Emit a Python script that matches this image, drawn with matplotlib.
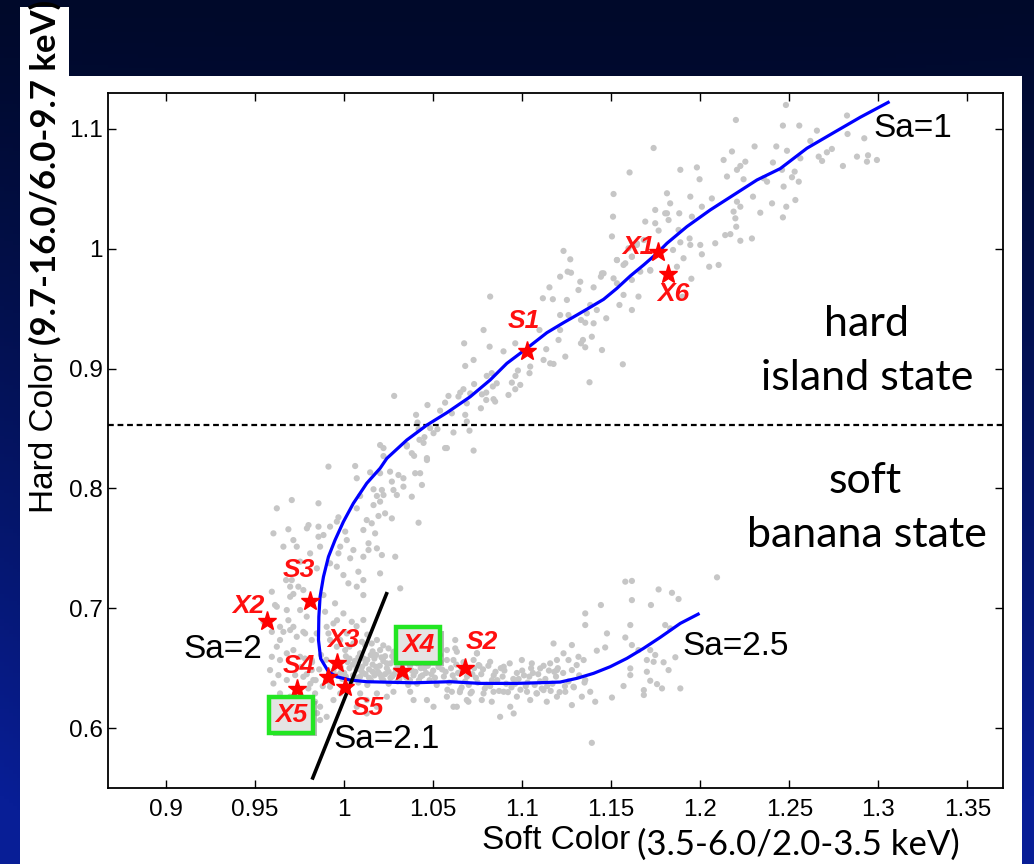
import numpy as np
import matplotlib
matplotlib.use("Agg")
import matplotlib.pyplot as plt
import matplotlib.patheffects as pe
from matplotlib.patches import Rectangle

# ---------------- data ----------------
# hard (island) branch points
hard_pts = [
(1.2481,1.120),(1.2200,1.1075),(1.2464,1.1028),(1.2556,1.1028),(1.2655,1.0986),(1.2824,1.1112),
(1.2827,1.0958),(1.2921,1.0922),(1.2942,1.0780),(1.2880,1.0769),(1.2992,1.0741),(1.2936,1.0727),
(1.2801,1.0691),(1.2739,1.0833),(1.2711,1.0805),(1.2665,1.0769),(1.2684,1.0733),(1.2618,1.0900),
(1.2562,1.0755),(1.2530,1.0644),(1.2515,1.0597),(1.2553,1.0560),(1.2487,1.0818),(1.2427,1.0854),
(1.2408,1.0720),(1.2459,1.0659),(1.2305,1.0854),(1.2253,1.0727),(1.2178,1.0812),(1.2131,1.0741),
(1.2150,1.0603),(1.2206,1.0659),(1.2225,1.0691),(1.2243,1.0580),(1.2356,1.0588),(1.2375,1.0560),
(1.2468,1.0519),(1.2534,1.0407),(1.2483,1.0351),(1.2403,1.0379),(1.2337,1.0301),(1.2296,1.0435),
(1.2206,1.0393),(1.2225,1.0351),(1.2187,1.0310),(1.2197,1.0254),(1.2202,1.0184),(1.2169,1.0122),
(1.2140,1.0114),(1.2225,1.0067),(1.2290,1.0086),(1.2464,1.0262),(1.2065,1.0420),(1.2009,1.0351),
(1.1981,1.0679),(1.1996,1.0580),(1.1888,1.0659),(1.1944,1.0435),(1.1953,1.0268),(1.1813,1.0463),
(1.1831,1.0379),(1.1882,1.0296),(1.1822,1.0240),(1.1878,1.0157),(1.1940,1.0086),(1.1944,1.0032),
(1.1888,1.0054),(1.1847,0.9990),(1.2000,1.0032),(1.2084,1.0046),(1.2009,0.9954),(1.1906,0.9921),
(1.2103,0.9865),(1.1738,1.0841),(1.1603,1.0637),(1.1513,1.0457),(1.1510,1.0268),(1.1813,1.0296),
(1.1747,1.0213),(1.1504,1.0103),(1.1532,0.9906),(1.1579,0.9879),(1.1616,0.9934),(1.1644,1.0032),
(1.1683,1.0073),(1.1719,0.9823),(1.1869,0.9850),(1.1448,0.9795),(1.1950,0.9750),(1.2050,0.9850),
(1.1900,0.9600),
(1.1803,1.0296),(1.1747,1.0324),(1.1691,1.0227),(1.1766,1.0152),(1.1644,1.0046),(1.1597,1.0004),
(1.1616,0.9934),(1.1532,0.9906),(1.1663,0.9809),(1.1719,0.9817),(1.1569,0.9865),(1.1616,0.9740),
(1.1513,0.9753),(1.1532,0.9712),(1.1653,0.9601),(1.1569,0.9615),(1.1616,0.9489),(1.1546,0.9531),
(1.1457,0.9795),(1.1442,0.9767),(1.1401,0.9678),(1.1382,0.9531),(1.1419,0.9489),(1.1472,0.9420),
(1.1363,0.9461),(1.1401,0.9378),(1.1354,0.9383),(1.1330,0.9406),(1.1391,0.9266),(1.1341,0.9239),
(1.1330,0.9211),(1.1354,0.9178),(1.1448,0.9155),(1.1565,0.9036),(1.1378,0.8886),(1.1242,0.9100),
(1.1213,0.9322),(1.1213,0.9447),(1.1260,0.9447),(1.1251,0.9573),(1.1316,0.9656),(1.1326,0.9725),
(1.1274,0.9800),(1.1255,0.9809),(1.1232,0.9982),(1.1270,0.9912),(1.1213,0.9767),(1.1153,0.9678),
(1.1172,0.9579),(1.1116,0.9587),(1.1204,0.9239),(1.1135,0.9162),(1.1120,0.9072),(1.1157,0.9044),
(1.1176,0.9039),(1.1097,0.9322),(1.1045,0.9017),(1.1041,0.8962),(1.0976,0.8984),(1.0962,0.8939),
(1.0942,0.8883),(1.0989,0.8864),(1.0961,0.8828),(1.0923,0.8780),(1.0961,0.9211),(1.0895,0.9144),
(1.0829,0.8962),(1.0801,0.8939),(1.0835,0.8851),(1.0857,0.8877),(1.0817,0.9183),(1.0783,0.9322),
(1.0820,0.9601),(1.0674,0.9211),(1.0727,0.9072),(1.0680,0.9022),(1.0798,0.8800),(1.0839,0.8745),
(1.0848,0.8725),(1.0798,0.8738),(1.0774,0.8785),(1.0730,0.8871),(1.0708,0.8793),(1.0768,0.8669),
(1.0689,0.8710),(1.0652,0.8800),(1.0670,0.8828),(1.0642,0.8767),(1.0586,0.8772),(1.0567,0.8716),
(1.0605,0.8627),(1.0680,0.8614),(1.0689,0.8558),(1.0704,0.8482),(1.0727,0.8316),(1.0614,0.8467),
(1.0577,0.8337),(1.0483,0.8503),(1.0524,0.8495),(1.0502,0.8461),(1.0468,0.8696),(1.0539,0.8649),
(1.0404,0.8614),(1.0412,0.8550),(1.0418,0.8495),(1.0451,0.8428),(1.0423,0.8406),(1.0352,0.8350),
(1.0393,0.8272),(1.0465,0.8253),(1.0202,0.8362),(1.0221,0.8337),(1.0281,0.8772),
]

# left arc (transition) points
arc_pts = [
(1.0221,0.8270),(1.0352,0.8362),(1.0380,0.8294),(1.0446,0.8380),(1.0465,0.8237),(1.0567,0.8337),
(0.9912,0.8182),(1.0062,0.8187),(1.0146,0.8134),(1.0202,0.8127),(1.0258,0.8140),(1.0305,0.8112),
(1.0333,0.8085),(1.0268,0.8057),(1.0399,0.8127),(1.0427,0.8127),(1.0437,0.8029),(1.0333,0.8015),
(1.0277,0.7987),(1.0212,0.7987),(1.0165,0.7993),(1.0184,0.7937),(1.0221,0.7945),(1.0202,0.7890),
(1.0165,0.7861),(1.0296,0.7945),(1.0380,0.7931),(1.0418,0.7714),(1.0268,0.7750),(1.0230,0.7792),
(1.0193,0.7770),(1.0155,0.7709),(1.0127,0.7736),(1.0108,0.7653),(1.0174,0.7625),(1.0137,0.7542),
(1.0184,0.7500),(1.0137,0.7486),(1.0108,0.7430),(1.0052,0.7486),(1.0034,0.7417),(1.0212,0.7444),
(1.0287,0.7430),(1.0071,0.7834),(1.0090,0.7937),(1.0071,0.8085),(0.9856,0.7876),(0.9706,0.7903),
(0.9622,0.7834),(0.9800,0.7694),(0.9791,0.7667),(0.9856,0.7681),(0.9921,0.7681),(0.9959,0.7723),
(0.9968,0.7759),(1.0006,0.7640),(0.9978,0.7514),(1.0015,0.7569),(0.9968,0.7458),(0.9687,0.7659),
(0.9603,0.7625),(0.9659,0.7514),(0.9715,0.7569),(0.9734,0.7514),(0.9856,0.7597),(0.9884,0.7611),
(0.9865,0.7514),(0.9809,0.7458),(0.9753,0.7389),(0.9847,0.7333),(0.9921,0.7375),(0.9959,0.7347),
(0.9996,0.7277),(1.0024,0.7208),(1.0080,0.7305),(1.0071,0.7180),(1.0108,0.7235),(1.0202,0.7291),
(1.0315,0.7166),(0.9706,0.7235),(0.9743,0.7180),(0.9771,0.7152),(0.9697,0.7096),(0.9594,0.7138),
(0.9622,0.7013),(0.9678,0.6985),(0.9884,0.7110),(0.9893,0.6971),(0.9949,0.7041),(0.9996,0.6957),
(1.0043,0.6887),(0.9940,0.6873),(1.0108,0.7110),(1.0108,0.6902),(0.9912,0.6790),(0.9771,0.6803),
(0.9715,0.6845),(0.9659,0.6803),(0.9594,0.6803),(0.9547,0.6887),(0.9612,0.7027),
(0.9674,0.7235),(0.9697,0.7180),(0.9715,0.7119),(0.9753,0.6985),(0.9790,0.6930),(0.9687,0.6900),
(0.9640,0.6845),(0.9697,0.6818),(0.9734,0.6762),(0.9781,0.6790),(0.9818,0.6735),(0.9640,0.6735),
(0.9622,0.6679),(0.9846,0.6790),(0.9902,0.6845),(0.9921,0.6735),(0.9959,0.6679),(0.9978,0.6735),
(1.0015,0.6790),(1.0006,0.6651),(1.0052,0.6706),(1.0090,0.6624),(1.0118,0.6693),(1.0155,0.6706),
(1.0184,0.6735),(1.0202,0.6651),(1.0249,0.6665),(1.0277,0.6637),(1.0030,0.6680),(1.0100,0.6720),
(1.0160,0.6640),(1.0220,0.6690),(1.0300,0.6660),(1.0370,0.6630),(1.0450,0.6650),(1.0070,0.6850),
(1.0130,0.6780),(0.9960,0.6900),
]

# soft (banana) branch points
banana_pts = [
(0.9594,0.6595),(0.9640,0.6568),(0.9678,0.6624),(0.9715,0.6651),(0.9753,0.6595),(0.9818,0.6568),
(0.9584,0.6484),(0.9603,0.6372),(0.9631,0.6442),(0.9678,0.6401),(0.9725,0.6442),(0.9771,0.6428),
(0.9818,0.6484),(0.9827,0.6401),(0.9799,0.6331),(0.9837,0.6289),(0.9640,0.6289),(0.9697,0.6262),
(0.9837,0.6220),(0.9818,0.6150),(0.9865,0.6178),(0.9865,0.6067),(0.9902,0.6094),(0.9848,0.6125),
(0.9940,0.6234),(0.9978,0.6289),(1.0090,0.6289),(1.0127,0.6234),(1.0184,0.6289),(1.0240,0.6262),
(1.0277,0.6303),(1.0371,0.6303),(1.0390,0.6234),(1.0465,0.6234),(1.0502,0.6178),(1.0577,0.6262),
(1.0689,0.6234),(1.0614,0.6178),(1.0184,0.6178),(1.0127,0.6122),(1.0071,0.6178),(0.9921,0.6345),
(1.0502,0.6679),(1.0539,0.6610),(1.0577,0.6651),(1.0633,0.6637),(1.0577,0.6568),(1.0727,0.6568),
(1.0746,0.6624),(1.0624,0.6735),
(1.2094,0.7258),(1.1579,0.7222),(1.1616,0.7228),(1.1766,0.7157),(1.1841,0.7129),(1.1878,0.7077),
(1.1616,0.7068),(1.1723,0.7027),(1.1442,0.7027),(1.1354,0.6957),(1.1354,0.6860),(1.1607,0.6860),
(1.1803,0.6860),(1.1831,0.6832),(1.1476,0.6790),(1.1579,0.6756),(1.1616,0.6693),(1.1279,0.6693),
(1.1466,0.6673),(1.1419,0.6646),(1.1653,0.6651),(1.1719,0.6651),(1.1747,0.6610),(1.1860,0.6591),
(1.1700,0.6568),(1.1738,0.6553),(1.1794,0.6549),(1.1822,0.6484),(1.1700,0.6470),(1.1607,0.6498),
(1.1607,0.6442),(1.1719,0.6395),(1.1757,0.6367),(1.1785,0.6331),(1.1888,0.6331),(1.1683,0.6317),
(1.1683,0.6276),(1.1569,0.6351),(1.1504,0.6255),(1.1410,0.6220),(1.1391,0.5877),(1.1354,0.6401),
(1.1382,0.6303),(1.1335,0.6262),(1.1279,0.6192),(1.1288,0.6345),(1.1316,0.6595),(1.1345,0.6568),
(1.1232,0.6624),(1.1260,0.6568),(1.1195,0.6568),(1.1157,0.6540),(1.1195,0.6484),(1.1279,0.6484),
(1.1306,0.6526),(1.1242,0.6303),(1.1195,0.6262),(1.1138,0.6220),(1.1045,0.6234),(1.0970,0.6262),
(1.0933,0.6178),(1.0952,0.6122),(1.0876,0.6094),(1.0829,0.6220),(1.0773,0.6234),(1.0698,0.6220),
(1.0633,0.6178),(1.1120,0.6317),(1.1083,0.6289),(1.1027,0.6303),(1.0896,0.6303),(1.0839,0.6303),
(1.0783,0.6289),(1.0717,0.6303),(1.0652,0.6317),(1.0605,0.6303),(1.0998,0.6568),(1.1054,0.6540),
(1.1101,0.6498),(1.0896,0.6512),(1.0820,0.6553),(1.0755,0.6526),(1.0624,0.6665),(1.0746,0.6624),
(1.0614,0.6568),(1.1176,0.6706),
]

# dense core of the soft branch
core_pts = [
(0.994,0.648),(0.997,0.655),(0.999,0.641),(1.001,0.660),(1.003,0.650),(1.005,0.644),(1.006,0.656),
(1.008,0.638),(1.009,0.662),(1.010,0.651),(1.012,0.645),(1.013,0.657),(1.015,0.640),(1.016,0.653),
(1.018,0.661),(1.019,0.647),(1.021,0.642),(1.022,0.656),(1.024,0.650),(1.025,0.637),(1.027,0.660),
(1.028,0.645),(1.030,0.653),(1.031,0.641),(1.033,0.657),(1.034,0.648),(1.036,0.636),(1.037,0.652),
(1.039,0.644),(1.040,0.659),(1.042,0.640),(1.043,0.650),(1.045,0.655),(1.046,0.646),
(0.996,0.644),(0.998,0.651),(1.000,0.646),(1.002,0.655),(1.004,0.639),(1.007,0.649),(1.009,0.643),
(1.011,0.658),(1.013,0.636),(1.014,0.649),(1.017,0.644),(1.017,0.658),(1.020,0.652),(1.023,0.645),
(1.023,0.660),(1.026,0.654),(1.026,0.642),(1.029,0.649),(1.029,0.662),(1.032,0.645),(1.035,0.655),
(1.035,0.642),(1.038,0.648),(1.041,0.654),(1.041,0.637),(1.044,0.644),(1.047,0.652),(1.048,0.640),
(1.050,0.648),(1.052,0.636),(1.054,0.655),(1.056,0.643),(1.058,0.632),(1.060,0.650),(1.062,0.640),
(1.064,0.646),(1.066,0.634),(1.067,0.655),(1.069,0.643),(1.071,0.629),(1.073,0.650),(1.075,0.638),
(1.077,0.645),(1.079,0.633),(1.081,0.652),(1.083,0.640),(1.085,0.647),(1.087,0.631),(1.089,0.643),
(1.091,0.637),(1.093,0.654),(1.095,0.641),(1.097,0.646),(1.099,0.632),(1.101,0.644),(1.103,0.638),
(1.105,0.650),(1.107,0.636),(1.109,0.645),(1.111,0.633),(1.113,0.641),(1.115,0.648),(1.117,0.637),
(1.119,0.643),(1.121,0.630),(1.123,0.646),(1.126,0.639),(1.129,0.634),(1.132,0.644),(1.135,0.638),
(1.051,0.642),(1.055,0.649),(1.059,0.638),(1.063,0.653),(1.065,0.630),(1.068,0.639),(1.072,0.645),
(1.076,0.652),(1.080,0.636),(1.084,0.644),(1.088,0.650),(1.092,0.630),(1.096,0.637),(1.100,0.648),
(1.104,0.643),(1.108,0.629),(1.112,0.652),(1.116,0.631),(1.120,0.650),(1.124,0.635),
(0.976,0.651),(0.979,0.645),(0.982,0.655),(0.984,0.640),(0.986,0.649),(0.988,0.635),(0.990,0.657),
(0.991,0.643),(0.992,0.638),(0.987,0.661),(0.981,0.637),(0.978,0.658),
(0.995,0.652),(0.998,0.646),(1.001,0.643),(1.003,0.658),(1.005,0.653),(1.007,0.642),(1.008,0.659),
(1.010,0.647),(1.012,0.654),(1.014,0.642),(1.015,0.661),(1.016,0.647),(1.018,0.651),(1.020,0.645),
(1.021,0.659),(1.022,0.640),(1.024,0.654),(1.025,0.647),(1.027,0.643),(1.028,0.657),(1.030,0.639),
(1.031,0.650),(1.032,0.660),(1.034,0.644),(1.036,0.658),(1.037,0.640),(1.038,0.655),(1.040,0.647),
(1.042,0.657),(1.043,0.643),(1.045,0.650),(1.047,0.657),(1.049,0.645),(1.053,0.651),(1.057,0.647),
(1.061,0.644),(1.066,0.650),(1.070,0.636),(1.074,0.642),(1.078,0.649),(1.082,0.635),(1.086,0.640),
(1.090,0.648),(1.094,0.634),(1.098,0.641),(1.102,0.635),(1.106,0.646),(1.110,0.639),(1.114,0.635),
(1.118,0.647),
]

# blue Sa curve (from Sa=1 to Sa=2.5)
curve_x = [1.3063,1.2899,1.2749,1.2599,1.2449,1.2318,1.2187,1.2056,1.1925,1.1813,1.1757,1.1682,
           1.1607,1.1532,1.1457,1.1382,1.1307,1.1232,1.1139,1.1026,1.0914,1.0820,1.0708,1.0577,
           1.0465,1.0352,1.0240,1.0202,1.0127,1.0052,0.9996,0.9949,0.9912,0.9884,0.9865,0.9858,
           0.9856,0.9868,0.9884,0.9912,0.9959,1.0034,1.0128,1.0389,1.0596,1.0764,1.0970,1.1213,
           1.1307,1.1401,1.1494,1.1588,1.1681,1.1775,1.1888,1.1996]
curve_y = [1.1228,1.1098,1.0969,1.0839,1.0669,1.0574,1.0449,1.0324,1.0185,1.0046,0.9962,0.9865,
           0.9773,0.9670,0.9578,0.9512,0.9447,0.9383,0.9300,0.9169,0.9044,0.8905,0.8765,0.8632,
           0.8529,0.8404,0.8251,0.8168,0.8043,0.7876,0.7722,0.7569,0.7430,0.7263,0.7096,0.6929,
           0.6735,0.6580,0.6540,0.6470,0.6428,0.6401,0.6387,0.6378,0.6387,0.6373,0.6373,0.6384,
           0.6415,0.6457,0.6512,0.6582,0.6665,0.6757,0.6874,0.6957]

# Sa = 2.1 line and state boundary
sa21_x = [0.982, 1.0242]
sa21_y = [0.557, 0.7135]
boundary_y = 0.853

# red stars and their labels
star_names = ['X1', 'X6', 'S1', 'S3', 'X2', 'X3', 'S4', 'X5', 'S5', 'X4', 'S2']
star_x = [1.1764, 1.1820, 1.1028, 0.9810, 0.9567, 0.9960, 0.9910, 0.9736, 1.0006, 1.0326, 1.0680]
star_y = [0.9973, 0.9790, 0.9147, 0.7060, 0.6890, 0.6540, 0.6430, 0.6330, 0.6340, 0.6480, 0.6500]
label_x = [1.1562, 1.1758, 1.0921, 0.9657, 0.9371, 0.9904, 0.9657, 0.9612, 1.0045, 1.0326, 1.0680]
label_y = [0.9955, 0.9562, 0.9336, 0.7260, 0.6958, 0.6676, 0.6459, 0.6050, 0.6110, 0.6634, 0.6659]
boxed = ['X4', 'X5']

sa_text = ['Sa=1', 'Sa=2', 'Sa=2.5', 'Sa=2.1']
sa_text_x = [1.2972, 0.9096, 1.1899, 0.9938]
sa_text_y = [1.0933, 0.6584, 0.6609, 0.5833]

x_ticks = [0.9, 0.95, 1.0, 1.05, 1.1, 1.15, 1.2, 1.25, 1.3, 1.35]
y_ticks = [0.6, 0.7, 0.8, 0.9, 1.0, 1.1]

# ---------------- figure ----------------
W, H = 1034, 864
fig = plt.figure(figsize=(W / 100, H / 100), dpi=100)

HELV = ['Liberation Sans', 'DejaVu Sans']
GILL = ['Lato', 'DejaVu Sans']

# slide background gradient
bg = fig.add_axes([0, 0, 1, 1], zorder=-10)
yy, xx = np.mgrid[0:1:240j, 0:1:240j]
t = np.clip(0.85 * yy ** 1.2 + 0.25 * yy * (np.abs(xx - 0.5) * 2) ** 3, 0, 1)
dark = np.array([0, 9, 42]) / 255.0
blue = np.array([8, 30, 150]) / 255.0
img = dark + (blue - dark) * t[..., None]
bg.imshow(img, extent=[0, 1, 0, 1], aspect='auto', origin='upper')
bg.axis('off')

# white panels
fig.patches.append(Rectangle((20 / W, 0), (1022 - 20) / W, (864 - 76) / H,
                             transform=fig.transFigure, fc='white', ec='none', zorder=-5))
fig.patches.append(Rectangle((20 / W, (864 - 77) / H), 49 / W, 70 / H,
                             transform=fig.transFigure, fc='white', ec='none', zorder=-5))

ax = fig.add_axes([108 / W, 1 - 788 / H, (1003 - 108) / W, (788 - 93) / H], zorder=0)
ax.set_facecolor('white')

groups = [hard_pts, arc_pts, banana_pts, core_pts]
for g in groups:
    arr = np.array(g)
    ax.scatter(arr[:, 0], arr[:, 1], s=20, c='#c6c6c6', edgecolors='none', zorder=1)

ax.plot(curve_x, curve_y, color='#0000ff', lw=2.3, solid_joinstyle='round',
        solid_capstyle='butt', zorder=3)
ax.plot(sa21_x, sa21_y, color='black', lw=2.6, solid_capstyle='butt', zorder=3)
ax.axhline(boundary_y, color='black', lw=1.6, ls=(0, (2.6, 1.7)), zorder=2)

ax.plot(star_x, star_y, ls='none', marker='*', ms=14, color='#ff0000',
        markeredgecolor='#ff0000', zorder=5)

for name, lx, ly in zip(star_names, label_x, label_y):
    txt = ax.text(lx, ly, name, color='#ff1010', fontsize=19, fontweight='bold',
                  fontstyle='italic', family=HELV, ha='left', va='baseline', zorder=6)
    if name in boxed:
        txt.set_bbox(dict(boxstyle='square,pad=0.22', fc='#e4e4e4', ec='#22e622', lw=3.2))
        txt.get_bbox_patch().set_path_effects(
            [pe.SimplePatchShadow(offset=(2.5, -2.5), shadow_rgbFace='#888888', alpha=0.6),
             pe.Normal()])

for s, sx, sy in zip(sa_text, sa_text_x, sa_text_y):
    ax.text(sx, sy, s, fontsize=24, family=HELV, color='black', ha='left', va='baseline', zorder=6)

# state annotations (slide font)
def ay(py):
    return 1 - (py - 93) / (788 - 93)

ax.text(0.848, ay(336), 'hard', transform=ax.transAxes, fontsize=31,
        family=GILL, ha='center', va='baseline', color='black')
ax.text(0.848, ay(390), 'island state', transform=ax.transAxes, fontsize=31,
        family=GILL, ha='center', va='baseline', color='black')
ax.text(0.846, ay(493), 'soft', transform=ax.transAxes, fontsize=31,
        family=GILL, ha='center', va='baseline', color='black')
ax.text(0.848, ay(547), 'banana state', transform=ax.transAxes, fontsize=31,
        family=GILL, ha='center', va='baseline', color='black')

ax.set_xlim(0.8674, 1.370)
ax.set_ylim(0.550, 1.130)
ax.set_xticks(x_ticks)
ax.set_yticks(y_ticks)
ax.set_xticklabels(['%g' % v for v in x_ticks])
ax.set_yticklabels(['%g' % v for v in y_ticks])
ax.tick_params(direction='in', top=True, right=True, length=6, width=1.0,
               labelsize=17.5, colors='black')
ax.tick_params(axis='x', pad=8)
ax.tick_params(axis='y', pad=4)
for lab in ax.get_xticklabels() + ax.get_yticklabels():
    lab.set_family(HELV)
for sp in ax.spines.values():
    sp.set_linewidth(1.3)
    sp.set_color('black')

# axis labels (two fonts, like the slide)
fig.text(482 / W, 1 - 849 / H, 'Soft Color', fontsize=24, family=HELV,
         ha='left', va='baseline', color='black')
fig.text(637 / W, 1 - 855 / H, '(3.5-6.0/2.0-3.5 keV)', fontsize=25, family=GILL,
         ha='left', va='baseline', color='black')
fig.text(53 / W, 1 - 513 / H, 'Hard Color', fontsize=24, family=HELV, rotation=90,
         rotation_mode='anchor', ha='left', va='baseline', color='black')
fig.text(56 / W, 1 - 345 / H, '(9.7-16.0/6.0-9.7 keV)', fontsize=25, family=GILL,
         fontweight='bold', rotation=90, rotation_mode='anchor', ha='left', va='baseline',
         color='black')

fig.savefig('out.png', dpi=100)
